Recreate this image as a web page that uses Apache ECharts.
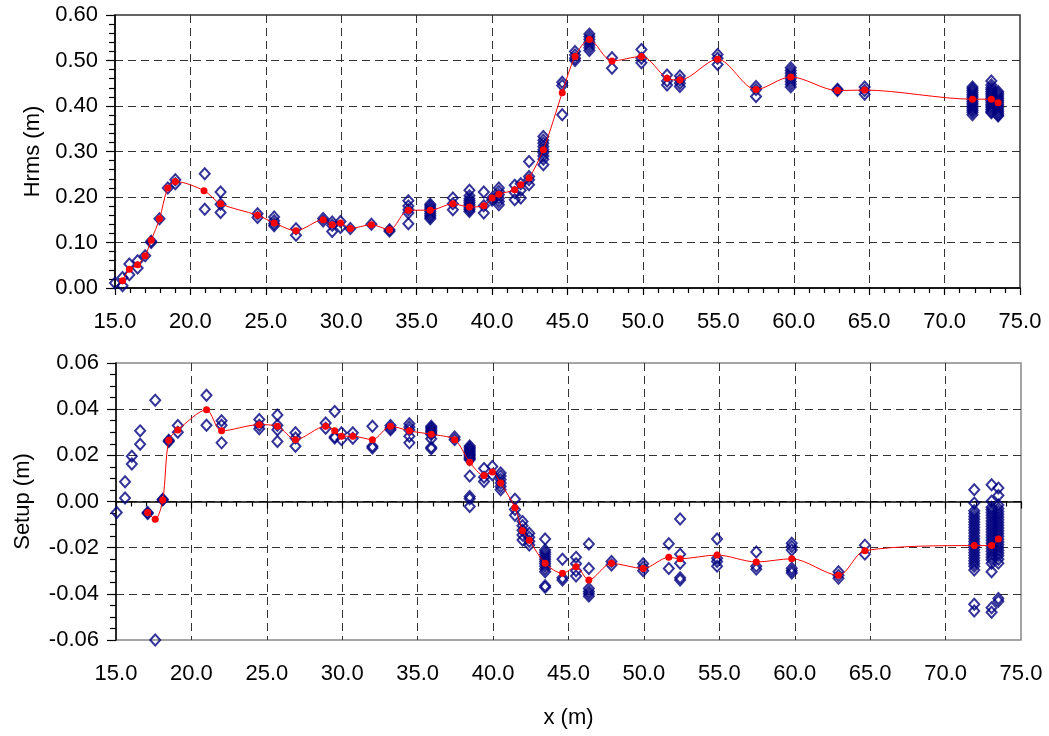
<!DOCTYPE html>
<html>
<head>
<meta charset="utf-8">
<script src="https://cdn.jsdelivr.net/npm/echarts@6/dist/echarts.min.js"></script>
<style>
  html, body { margin: 0; padding: 0; background: #fff; }
  #chart { width: 1049px; height: 736px; }
</style>
</head>
<body>
<div id="chart"></div>
<script>
// measured Hrms (m), individual runs
const hrmsPoints = [
  [15.0, 0.011], [15.5, 0.005], [15.5, 0.023], [15.95, 0.053], [15.95, 0.029],
  [16.5, 0.060], [16.5, 0.044], [17.0, 0.071], [17.4, 0.100], [17.4, 0.103],
  [17.95, 0.152], [18.5, 0.220], [19.0, 0.238], [19.0, 0.229],
  [20.95, 0.251], [20.95, 0.173], [22.0, 0.211], [22.0, 0.184], [22.0, 0.166],
  [24.45, 0.163], [24.45, 0.155], [25.55, 0.156], [25.55, 0.148], [25.55, 0.141], [25.55, 0.137],
  [27.0, 0.130], [27.0, 0.116], [28.8, 0.153], [28.8, 0.147],
  [29.4, 0.145], [29.4, 0.138], [29.4, 0.124], [29.95, 0.146], [29.95, 0.133],
  [30.6, 0.131], [32.0, 0.140], [33.2, 0.128], [33.2, 0.125],
  [34.45, 0.192], [34.45, 0.180], [34.45, 0.172], [34.45, 0.165], [34.45, 0.141],
  [35.9, 0.184], [35.9, 0.180], [35.9, 0.176], [35.9, 0.172], [35.9, 0.168], [35.9, 0.164], [35.9, 0.160], [35.9, 0.156], [35.9, 0.152],
  [37.4, 0.198], [37.4, 0.185], [37.4, 0.172],
  [38.5, 0.215], [38.5, 0.203], [38.5, 0.196], [38.5, 0.192], [38.5, 0.188], [38.5, 0.184], [38.5, 0.180], [38.5, 0.176], [38.5, 0.172], [38.5, 0.168],
  [39.45, 0.211], [39.45, 0.165], [39.45, 0.181], [40.0, 0.198], [40.0, 0.193],
  [40.45, 0.220], [40.45, 0.212], [40.45, 0.205], [40.45, 0.197], [40.45, 0.190], [40.45, 0.183],
  [41.5, 0.226], [41.5, 0.210], [41.5, 0.194], [41.9, 0.229], [41.9, 0.215], [41.9, 0.198],
  [42.45, 0.278], [42.45, 0.245], [42.45, 0.238], [42.45, 0.227],
  [43.4, 0.333], [43.4, 0.325], [43.4, 0.318], [43.4, 0.311], [43.4, 0.304], [43.4, 0.297], [43.4, 0.290], [43.4, 0.283], [43.4, 0.271],
  [44.65, 0.452], [44.65, 0.445], [44.65, 0.381],
  [45.5, 0.520], [45.5, 0.512], [45.5, 0.505], [45.5, 0.500],
  [46.45, 0.558], [46.45, 0.552], [46.45, 0.546], [46.45, 0.540], [46.45, 0.534], [46.45, 0.528], [46.45, 0.522],
  [47.95, 0.506], [47.95, 0.483], [49.9, 0.524], [49.9, 0.505], [49.9, 0.495],
  [51.6, 0.468], [51.6, 0.455], [51.6, 0.446], [52.45, 0.466], [52.45, 0.457], [52.45, 0.450], [52.45, 0.443],
  [54.95, 0.513], [54.95, 0.505], [54.95, 0.491], [57.5, 0.443], [57.5, 0.436], [57.5, 0.421],
  [59.8, 0.484], [59.8, 0.478], [59.8, 0.472], [59.8, 0.466], [59.8, 0.460], [59.8, 0.454], [59.8, 0.448], [59.8, 0.442],
  [62.9, 0.434], [62.9, 0.437], [64.7, 0.442], [64.7, 0.434], [64.7, 0.426],
  [71.85, 0.442], [71.85, 0.438], [71.85, 0.434], [71.85, 0.430], [71.85, 0.426], [71.85, 0.422], [71.85, 0.418], [71.85, 0.414],
  [71.85, 0.410], [71.85, 0.406], [71.85, 0.402], [71.85, 0.398], [71.85, 0.394], [71.85, 0.390], [71.85, 0.386], [71.85, 0.381],
  [73.1, 0.455], [73.1, 0.446], [73.1, 0.440], [73.1, 0.436], [73.1, 0.432], [73.1, 0.428], [73.1, 0.424], [73.1, 0.420], [73.1, 0.416],
  [73.1, 0.412], [73.1, 0.408], [73.1, 0.404], [73.1, 0.400], [73.1, 0.396], [73.1, 0.392], [73.1, 0.388], [73.1, 0.385],
  [73.55, 0.432], [73.55, 0.428], [73.55, 0.424], [73.55, 0.420], [73.55, 0.416], [73.55, 0.412], [73.55, 0.408], [73.55, 0.404],
  [73.55, 0.400], [73.55, 0.396], [73.55, 0.392], [73.55, 0.388], [73.55, 0.384], [73.55, 0.380], [73.55, 0.378]
]

// averaged Hrms (m)
const hrmsMean = [
  [15.5, 0.016], [15.95, 0.041], [16.5, 0.051], [17.0, 0.071], [17.4, 0.105], [17.95, 0.152],
  [18.5, 0.220], [19.0, 0.234], [20.9, 0.214], [22.0, 0.185], [24.45, 0.160], [25.55, 0.143],
  [27.0, 0.126], [28.8, 0.150], [29.4, 0.139], [29.95, 0.143], [30.6, 0.131], [32.0, 0.139],
  [33.2, 0.128], [34.45, 0.171], [35.9, 0.171], [37.4, 0.185], [38.5, 0.178], [39.45, 0.181],
  [40.0, 0.198], [40.45, 0.206], [41.5, 0.216], [41.9, 0.227], [42.45, 0.242], [43.4, 0.304],
  [44.65, 0.429], [45.5, 0.509], [46.45, 0.546], [47.95, 0.499], [49.9, 0.509], [51.6, 0.461],
  [52.45, 0.457], [54.95, 0.503], [57.5, 0.436], [59.8, 0.464], [62.9, 0.434], [64.7, 0.435],
  [71.85, 0.415], [73.1, 0.415], [73.55, 0.407]
]

// measured setup (m), individual runs
const setupPoints = [
  [15.05, -0.0048], [15.6, 0.0086], [15.6, 0.0015], [16.05, 0.0196], [16.05, 0.0162],
  [16.6, 0.0306], [16.6, 0.0248], [17.1, -0.0048], [17.1, -0.0052], [17.6, 0.0439], [17.6, -0.0600],
  [18.1, 0.0007], [18.1, 0.0010], [18.5, 0.0265], [18.5, 0.0260], [19.1, 0.0329], [19.1, 0.0300],
  [21.0, 0.0460], [21.0, 0.0330], [22.0, 0.0350], [22.0, 0.0330], [22.0, 0.0254],
  [24.5, 0.0355], [24.5, 0.0330], [24.5, 0.0315], [25.7, 0.0375], [25.7, 0.0330], [25.7, 0.0311], [25.7, 0.0260],
  [26.9, 0.0298], [26.9, 0.0275], [26.9, 0.0239], [28.9, 0.0340], [28.9, 0.0317],
  [29.5, 0.0390], [29.5, 0.0280], [29.5, 0.0275], [29.95, 0.0298], [29.95, 0.0268],
  [30.7, 0.0298], [30.7, 0.0274], [32.0, 0.0326], [32.0, 0.0239], [32.0, 0.0232],
  [33.2, 0.0329], [33.2, 0.0318], [33.2, 0.0311],
  [34.45, 0.0337], [34.45, 0.0323], [34.45, 0.0310], [34.45, 0.0283], [34.45, 0.0254],
  [35.9, 0.0326], [35.9, 0.0320], [35.9, 0.0314], [35.9, 0.0308], [35.9, 0.0302], [35.9, 0.0296], [35.9, 0.0290],
  [35.9, 0.0272], [35.9, 0.0235], [35.9, 0.0228],
  [37.45, 0.0279], [37.45, 0.0268],
  [38.45, 0.0240], [38.45, 0.0234], [38.45, 0.0228], [38.45, 0.0222], [38.45, 0.0216], [38.45, 0.0210], [38.45, 0.0204],
  [38.45, 0.0198], [38.45, 0.0192], [38.45, 0.0186], [38.45, 0.0181],
  [38.45, 0.0110], [38.45, 0.0022], [38.45, 0.0012], [38.45, -0.0022],
  [39.4, 0.0143], [39.4, 0.0105], [39.4, 0.0087], [39.95, 0.0152], [39.95, 0.0116],
  [40.5, 0.0123], [40.5, 0.0110], [40.5, 0.0095], [40.5, 0.0080], [40.5, 0.0065], [40.5, 0.0051],
  [41.45, 0.0010], [41.45, -0.0035], [41.45, -0.0060],
  [41.95, -0.0087], [41.95, -0.0105], [41.95, -0.0125], [41.95, -0.0145], [41.95, -0.0167],
  [42.4, -0.0138], [42.4, -0.0155], [42.4, -0.0172], [42.4, -0.0188],
  [43.45, -0.0162], [43.45, -0.0210], [43.45, -0.0220], [43.45, -0.0230], [43.45, -0.0240], [43.45, -0.0250], [43.45, -0.0260],
  [43.45, -0.0270], [43.45, -0.0280], [43.45, -0.0292], [43.45, -0.0304], [43.45, -0.0365], [43.45, -0.0372],
  [44.6, -0.0250], [44.6, -0.0330], [44.6, -0.0340],
  [45.5, -0.0242], [45.5, -0.0270], [45.5, -0.0300], [45.5, -0.0323],
  [46.35, -0.0184], [46.35, -0.0290], [46.35, -0.0377], [46.35, -0.0390], [46.35, -0.0400], [46.35, -0.0410],
  [47.85, -0.0260], [47.85, -0.0275], [49.95, -0.0270], [49.95, -0.0285], [49.95, -0.0300],
  [51.65, -0.0183], [51.65, -0.0290], [52.4, -0.0076], [52.4, -0.0229], [52.4, -0.0268], [52.4, -0.0330], [52.4, -0.0340],
  [54.85, -0.0162], [54.85, -0.0246], [54.85, -0.0260], [54.85, -0.0280],
  [57.45, -0.0219], [57.45, -0.0280], [57.45, -0.0293],
  [59.8, -0.0181], [59.8, -0.0195], [59.8, -0.0210], [59.8, -0.0289], [59.8, -0.0300], [59.8, -0.0310],
  [62.9, -0.0304], [62.9, -0.0320], [62.9, -0.0333], [64.65, -0.0189], [64.65, -0.0228],
  [71.9, 0.0051], [71.9, -0.0007], [71.9, -0.0040], [71.9, -0.0052], [71.9, -0.0065], [71.9, -0.0077], [71.9, -0.0089],
  [71.9, -0.0101], [71.9, -0.0113], [71.9, -0.0125], [71.9, -0.0137], [71.9, -0.0149], [71.9, -0.0161], [71.9, -0.0173],
  [71.9, -0.0185], [71.9, -0.0197], [71.9, -0.0209], [71.9, -0.0221], [71.9, -0.0233], [71.9, -0.0245], [71.9, -0.0257],
  [71.9, -0.0269], [71.9, -0.0281], [71.9, -0.0297], [71.9, -0.0445], [71.9, -0.0474],
  [73.05, 0.0073], [73.05, 0.0001], [73.05, -0.0025], [73.05, -0.0036], [73.05, -0.0048], [73.05, -0.0060], [73.05, -0.0072],
  [73.05, -0.0084], [73.05, -0.0096], [73.05, -0.0108], [73.05, -0.0120], [73.05, -0.0132], [73.05, -0.0144], [73.05, -0.0156],
  [73.05, -0.0168], [73.05, -0.0180], [73.05, -0.0192], [73.05, -0.0204], [73.05, -0.0216], [73.05, -0.0228], [73.05, -0.0240],
  [73.05, -0.0252], [73.05, -0.0268], [73.05, -0.0304], [73.05, -0.0460], [73.05, -0.0480],
  [73.5, 0.0058], [73.5, 0.0026], [73.5, -0.0015], [73.5, -0.0030], [73.5, -0.0043], [73.5, -0.0055], [73.5, -0.0067],
  [73.5, -0.0079], [73.5, -0.0091], [73.5, -0.0103], [73.5, -0.0115], [73.5, -0.0127], [73.5, -0.0139], [73.5, -0.0151],
  [73.5, -0.0163], [73.5, -0.0175], [73.5, -0.0187], [73.5, -0.0199], [73.5, -0.0211], [73.5, -0.0223], [73.5, -0.0235],
  [73.5, -0.0250], [73.5, -0.0267], [73.5, -0.0420], [73.5, -0.0432]
]

// averaged setup (m)
const setupMean = [
  [17.1, -0.0048], [17.6, -0.0077], [18.1, 0.0007], [18.5, 0.0265], [19.1, 0.0310], [21.0, 0.0397],
  [22.0, 0.0306], [24.5, 0.0333], [25.7, 0.0326], [26.9, 0.0268], [28.9, 0.0326], [29.5, 0.0306],
  [29.95, 0.0283], [30.7, 0.0283], [32.0, 0.0268], [33.2, 0.0326], [34.45, 0.0306], [35.9, 0.0291],
  [37.45, 0.0268], [38.45, 0.0170], [39.4, 0.0113], [39.95, 0.0128], [40.5, 0.0080], [41.45, -0.0027],
  [41.95, -0.0127], [42.4, -0.0168], [43.45, -0.0268], [44.6, -0.0311], [45.5, -0.0283], [46.35, -0.0340],
  [47.85, -0.0268], [49.95, -0.0290], [51.65, -0.0242], [52.4, -0.0248], [54.85, -0.0232], [57.45, -0.0262],
  [59.8, -0.0248], [62.9, -0.0320], [64.65, -0.0213], [71.9, -0.0191], [73.05, -0.0191], [73.5, -0.0162]
]

const chart = echarts.init(document.getElementById('chart'))
const font = 'Liberation Sans, Arial, sans-serif'

const fmt = (v) => (Math.abs(v) < 1e-9 ? 0 : v).toFixed(2)

function xAxis(gridIndex, name) {
  return {
    type: 'value',
    gridIndex: gridIndex,
    min: 15,
    max: 75,
    interval: 5,
    name: name,
    nameLocation: 'middle',
    nameGap: 67,
    nameTextStyle: { fontFamily: font, fontSize: 22, color: '#000' },
    axisLine: { lineStyle: { color: '#000', width: 1.5 } },
    axisTick: { length: 7, lineStyle: { color: '#000', width: 1.2 } },
    minorTick: { show: true, splitNumber: 5, length: 5, lineStyle: { color: '#000', width: 1.2 } },
    axisLabel: { margin: 23, fontFamily: font, fontSize: 22, color: '#000', formatter: (v) => v.toFixed(1) },
    splitLine: {
      show: true, showMinLine: false, showMaxLine: false,
      lineStyle: { color: '#333', type: [8, 5], width: 1 },
    },
  }
}

function yAxis(gridIndex, name, min, max, interval, minorSplit, gap) {
  return {
    type: 'value',
    gridIndex: gridIndex,
    min: min,
    max: max,
    interval: interval,
    name: name,
    nameLocation: 'middle',
    nameRotate: 90,
    nameGap: gap,
    nameTextStyle: { fontFamily: font, fontSize: 22, color: '#000' },
    axisLine: { show: true, lineStyle: { color: '#000', width: 1.5 } },
    axisTick: { show: true, length: 9, lineStyle: { color: '#000', width: 1.2 } },
    minorTick: { show: true, splitNumber: minorSplit, length: 6, lineStyle: { color: '#000', width: 1.2 } },
    axisLabel: { margin: 17, fontFamily: font, fontSize: 22, color: '#000', formatter: fmt },
    splitLine: {
      show: true, showMinLine: false, showMaxLine: false,
      lineStyle: { color: '#333', type: [8, 5], width: 1 },
    },
  }
}

const diamond = {
  type: 'scatter',
  symbol: 'diamond',
  symbolSize: [10, 11],
  clip: false,
  itemStyle: { color: 'rgba(255,255,255,0)', borderColor: '#000080', borderWidth: 2 },
  z: 3,
}

const meanLine = {
  type: 'line',
  smooth: 0.3,
  symbol: 'circle',
  symbolSize: 7,
  showSymbol: true,
  lineStyle: { color: '#ff0000', width: 1 },
  itemStyle: { color: '#ff0000', borderWidth: 0 },
  z: 4,
}

const option = {
  animation: false,
  grid: [
    { left: 115, top: 15, width: 905, height: 273, show: true, borderColor: '#333', borderWidth: 1.5 },
    { left: 116, top: 363, width: 905, height: 277, show: true, borderColor: '#888', borderWidth: 1.5 },
  ],
  xAxis: [xAxis(0, ''), xAxis(1, 'x (m)')],
  yAxis: [
    yAxis(0, 'Hrms (m)', 0, 0.6, 0.1, 5, 68),
    yAxis(1, 'Setup (m)', -0.06, 0.06, 0.02, 4, 82),
  ],
  series: [
    Object.assign({}, diamond, { xAxisIndex: 0, yAxisIndex: 0, data: hrmsPoints }),
    Object.assign({}, meanLine, { xAxisIndex: 0, yAxisIndex: 0, data: hrmsMean }),
    Object.assign({}, diamond, { xAxisIndex: 1, yAxisIndex: 1, data: setupPoints }),
    Object.assign({}, meanLine, { xAxisIndex: 1, yAxisIndex: 1, data: setupMean }),
  ],
}

chart.setOption(option)
</script>
</body>
</html>
